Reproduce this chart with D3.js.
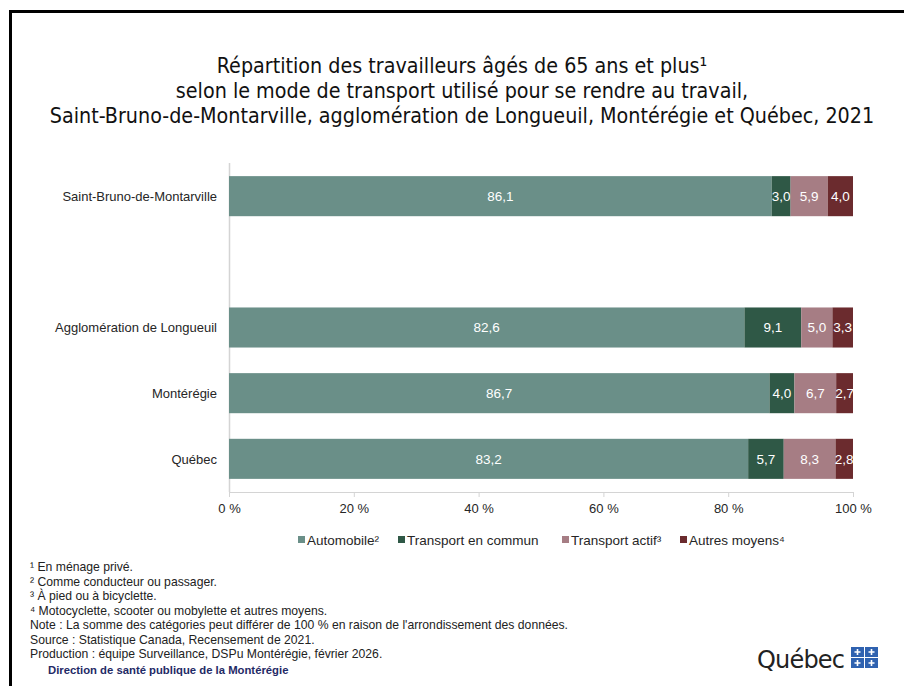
<!DOCTYPE html>
<html>
<head>
<meta charset="utf-8">
<script src="https://cdn.jsdelivr.net/npm/d3@7"></script>
<style>
  body { margin: 0; background: #fff; }
  svg { display: block; }
</style>
</head>
<body>
<svg width="904" height="686"></svg>
<script>
// données
var regions = ["Saint-Bruno-de-Montarville", "", "Agglomération de Longueuil", "Montérégie", "Québec"];
var modes = ["Automobile", "Transport en commun", "Transport actif", "Autres moyens"];
var legendLabels = ["Automobile²", "Transport en commun", "Transport actif³", "Autres moyens⁴"];
var automobile = [86.1, null, 82.6, 86.7, 83.2];
var transportCommun = [3.0, null, 9.1, 4.0, 5.7];
var transportActif = [5.9, null, 5.0, 6.7, 8.3];
var autresMoyens = [4.0, null, 3.3, 2.7, 2.8];
var xTicks = [0, 0.2, 0.4, 0.6, 0.8, 1];
var colors = ["#6a8f88", "#2f5846", "#a67d84", "#6b2b2e"];

var titleLines = [
  "Répartition des travailleurs âgés de 65 ans et plus¹",
  "selon le mode de transport utilisé pour se rendre au travail,",
  "Saint-Bruno-de-Montarville, agglomération de Longueuil, Montérégie et Québec, 2021"
];
var notes = [
  "¹ En ménage privé.",
  "² Comme conducteur ou passager.",
  "³ À pied ou à bicyclette.",
  "⁴ Motocyclette, scooter ou mobylette et autres moyens.",
  "Note : La somme des catégories peut différer de 100 % en raison de l'arrondissement des données.",
  "Source : Statistique Canada, Recensement de 2021.",
  "Production : équipe Surveillance, DSPu Montérégie, février 2026."
];

var svg = d3.select("svg");
var fmt = function(v) { return d3.format(".1f")(v).replace(".", ","); };

// cadre
svg.append("path")
  .attr("d", "M10.5,686 L10.5,11.5 L904,11.5")
  .attr("fill", "none").attr("stroke", "#000").attr("stroke-width", 3);

// titre
var title = svg.append("g").attr("font-family", "'Liberation Sans Narrow', 'DejaVu Sans Condensed', 'Liberation Sans', sans-serif")
  .attr("fill", "#111").attr("text-anchor", "middle");
title.selectAll("text").data(titleLines).enter().append("text")
  .attr("x", 462).attr("y", function(d, i) { return 73 + i * 25; })
  .attr("font-size", 22)
  .text(function(d) { return d; });
// ajuste la taille pour la largeur de la 3e ligne
var w3 = title.selectAll("text").nodes()[2].getComputedTextLength();
var fs = 22 * 825 / w3;
title.selectAll("text").attr("font-size", fs);

var rows = regions.map(function(r, i) {
  return { region: r, "Automobile": automobile[i] || 0, "Transport en commun": transportCommun[i] || 0,
           "Transport actif": transportActif[i] || 0, "Autres moyens": autresMoyens[i] || 0, empty: automobile[i] == null };
});

var x = d3.scaleLinear().domain([0, 1]).range([229, 853]);
var y = d3.scaleBand().domain(d3.range(regions.length)).range([163, 492]).paddingInner(0.39).paddingOuter(0.2);

// Excel 100 % empilé : chaque ligne ramenée à 100
var series = d3.stack().keys(modes).offset(d3.stackOffsetExpand)(rows);

// axe vertical
svg.append("line").attr("x1", 229.5).attr("x2", 229.5).attr("y1", 163).attr("y2", 492)
  .attr("stroke", "#d4d4d4").attr("stroke-width", 1.5);

var gSeries = svg.append("g").selectAll("g").data(series).enter().append("g")
  .attr("fill", function(d, i) { return colors[i]; });

function segs(d) {
  return d.map(function(p, j) { return { p: p, j: j, key: d.key }; }).filter(function(o) { return !o.p.data.empty; });
}

gSeries.selectAll("rect").data(segs)
  .enter().append("rect")
  .attr("x", function(o) { return x(o.p[0]); })
  .attr("width", function(o) { return x(o.p[1]) - x(o.p[0]); })
  .attr("y", function(o) { return y(o.j); })
  .attr("height", y.bandwidth());

gSeries.selectAll("text").data(segs)
  .enter().append("text")
  .attr("x", function(o) { return (x(o.p[0]) + x(o.p[1])) / 2; })
  .attr("y", function(o) { return y(o.j) + y.bandwidth() / 2; })
  .attr("dy", "0.36em")
  .attr("text-anchor", "middle")
  .attr("fill", "#fff")
  .attr("font-family", "'Liberation Sans', Arial, sans-serif")
  .attr("font-size", 13.5)
  .text(function(o) { return fmt(o.p.data[o.key]); });

// étiquettes des catégories
svg.append("g").selectAll("text").data(regions).enter().append("text")
  .attr("x", 217).attr("y", function(d, i) { return y(i) + y.bandwidth() / 2; })
  .attr("dy", "0.36em").attr("text-anchor", "end")
  .attr("font-family", "'Liberation Sans', Arial, sans-serif").attr("font-size", 13)
  .attr("fill", "#262626")
  .text(function(d) { return d; });

// axe horizontal
var xAxis = svg.append("g").attr("transform", "translate(0,492)")
  .call(d3.axisBottom(x).tickValues(xTicks).tickSize(5).tickPadding(7)
    .tickFormat(function(d) { return Math.round(d * 100) + " %"; }));
xAxis.select(".domain").attr("stroke", "#d4d4d4");
xAxis.selectAll(".tick line").attr("stroke", "#d4d4d4");
xAxis.selectAll(".tick text").attr("fill", "#262626")
  .attr("font-family", "'Liberation Sans Narrow', 'Liberation Sans', sans-serif").attr("font-size", 13);

// légende
var legendX = [298, 398, 562, 680];
var legend = svg.append("g").selectAll("g").data(legendLabels).enter().append("g")
  .attr("transform", function(d, i) { return "translate(" + legendX[i] + ",540)"; });
legend.append("rect").attr("x", 0).attr("y", -4).attr("width", 7).attr("height", 7)
  .attr("fill", function(d, i) { return colors[i]; });
legend.append("text").attr("x", 9).attr("y", 0).attr("dy", "0.36em")
  .attr("font-family", "'Liberation Sans Narrow', 'Liberation Sans', sans-serif").attr("font-size", 13.5)
  .attr("fill", "#262626").text(function(d) { return d; });

// notes
svg.append("g").selectAll("text").data(notes).enter().append("text")
  .attr("x", 30).attr("y", function(d, i) { return 571 + i * 14.5; })
  .attr("font-family", "'Liberation Sans', Arial, sans-serif").attr("font-size", 12.2)
  .attr("fill", "#222").text(function(d) { return d; });

svg.append("text").attr("x", 48).attr("y", 674)
  .attr("font-family", "'Liberation Sans Narrow', 'Liberation Sans', sans-serif").attr("font-weight", "bold")
  .attr("font-size", 11.3).attr("fill", "#1f2a66")
  .text("Direction de santé publique de la Montérégie");

// logo Québec
svg.append("text").attr("x", 757).attr("y", 668)
  .attr("font-family", "'DejaVu Sans', sans-serif").attr("font-size", 24).attr("fill", "#222")
  .attr("textLength", 88).text("Québec");
var flag = svg.append("g").attr("transform", "translate(851,647)");
[[0, 0], [14, 0], [0, 11], [14, 11]].forEach(function(p) {
  flag.append("rect").attr("x", p[0]).attr("y", p[1]).attr("width", 13).attr("height", 10).attr("fill", "#2f62b0");
  flag.append("path")
    .attr("d", "M" + (p[0] + 6.5) + "," + (p[1] + 2) + " L" + (p[0] + 6.5) + "," + (p[1] + 8) +
      " M" + (p[0] + 3.5) + "," + (p[1] + 5) + " L" + (p[0] + 9.5) + "," + (p[1] + 5))
    .attr("stroke", "#fff").attr("stroke-width", 1.6);
});
</script>
</body>
</html>
